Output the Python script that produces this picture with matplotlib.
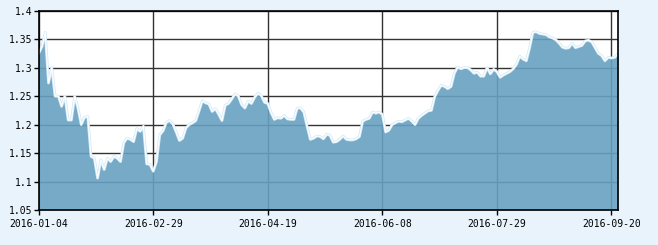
import numpy as np
import matplotlib
matplotlib.use("Agg")
import matplotlib.pyplot as plt

# 横轴刻度标签（每35个交易日一个）
tick_labels = ['2016-01-04', '2016-02-29', '2016-04-19',
               '2016-06-08', '2016-07-29', '2016-09-20']
tick_step = 35

# 净值（按交易日顺序，从图上读出）
nav = [1.325, 1.337, 1.362, 1.273, 1.300, 1.250, 1.250, 1.232, 1.250, 1.208,
       1.208, 1.250, 1.229, 1.200, 1.213, 1.214, 1.144, 1.141, 1.106, 1.138,
       1.121, 1.141, 1.135, 1.144, 1.141, 1.135, 1.168, 1.176, 1.174, 1.170,
       1.193, 1.188, 1.197, 1.131, 1.130, 1.118, 1.135, 1.182, 1.189, 1.204,
       1.207, 1.201, 1.187, 1.172, 1.176, 1.194, 1.200, 1.203, 1.207, 1.224,
       1.242, 1.238, 1.236, 1.223, 1.228, 1.218, 1.207, 1.234, 1.237, 1.245,
       1.254, 1.250, 1.235, 1.229, 1.241, 1.237, 1.248, 1.255, 1.251, 1.239,
       1.237, 1.221, 1.209, 1.212, 1.211, 1.216, 1.210, 1.209, 1.209, 1.229,
       1.229, 1.222, 1.197, 1.174, 1.176, 1.180, 1.179, 1.175, 1.183, 1.181,
       1.169, 1.170, 1.174, 1.180, 1.174, 1.173, 1.173, 1.175, 1.179, 1.206,
       1.209, 1.211, 1.222, 1.220, 1.222, 1.218, 1.187, 1.190, 1.200, 1.203,
       1.206, 1.205, 1.208, 1.211, 1.206, 1.200, 1.211, 1.216, 1.220, 1.224,
       1.225, 1.249, 1.260, 1.269, 1.267, 1.263, 1.267, 1.290, 1.301, 1.298,
       1.300, 1.300, 1.296, 1.290, 1.292, 1.285, 1.285, 1.300, 1.289, 1.297,
       1.293, 1.283, 1.287, 1.290, 1.293, 1.298, 1.306, 1.320, 1.315, 1.312,
       1.335, 1.362, 1.363, 1.360, 1.359, 1.358, 1.354, 1.352, 1.349, 1.343,
       1.336, 1.334, 1.335, 1.343, 1.335, 1.337, 1.339, 1.347, 1.348, 1.345,
       1.335, 1.325, 1.321, 1.312, 1.318, 1.317, 1.318, 1.324]

y_ticks = [1.05, 1.1, 1.15, 1.2, 1.25, 1.3, 1.35, 1.4]

x = np.arange(len(nav))
ticks = np.arange(0, len(nav), tick_step)[:len(tick_labels)]

fig = plt.figure(figsize=(6.58, 2.45), dpi=100, facecolor='#e8f3fb')
ax = fig.add_axes([0.0588, 0.1429, 0.8804, 0.8134])
ax.set_facecolor('white')

# 网格线在面积图下面，面积图半透明
ax.grid(True, color='#333333', linewidth=1.0)
ax.set_axisbelow(True)
ax.fill_between(x, 1.05, nav, color='#67a1c0', alpha=0.9, linewidth=0, zorder=2)
ax.plot(x, nav, color='#d4eaf7', linewidth=2.0, zorder=3)
ax.plot(x, nav, color='white', linewidth=0.8, zorder=4)

ax.set_xlim(0, len(nav) - 1)
ax.set_ylim(1.05, 1.4)
ax.set_xticks(ticks)
ax.set_xticklabels(tick_labels)
ax.set_yticks(y_ticks)
ax.set_yticklabels([('%.2f' % v).rstrip('0') for v in y_ticks])

for lab in ax.get_xticklabels() + ax.get_yticklabels():
    lab.set_family('DejaVu Sans Mono')
    lab.set_fontsize(7)
ax.tick_params(axis='both', direction='out', length=3.3, width=1, color='black')
ax.tick_params(axis='x', pad=3)
ax.tick_params(axis='y', pad=1.5)

for s in ax.spines.values():
    s.set_color('black')
    s.set_linewidth(1.2)
    s.set_zorder(5)

fig.savefig('out.png', dpi=100, facecolor=fig.get_facecolor())
